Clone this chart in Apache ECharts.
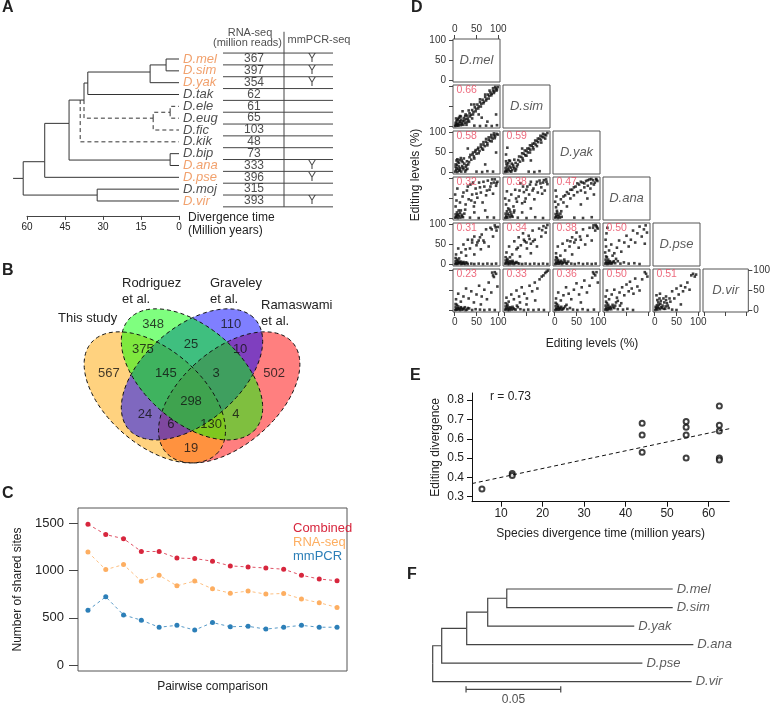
<!DOCTYPE html>
<html><head><meta charset="utf-8">
<script src="https://cdn.jsdelivr.net/npm/echarts@6/dist/echarts.min.js"></script>
<style>html,body{margin:0;padding:0;background:#fff}#c{width:773px;height:705px}</style>
</head><body><div id="c"></div>
<script>
const FONT = 'Liberation Sans, Arial, Helvetica, sans-serif';
const ORANGE = '#EE8A48';
const TXT = '#222';

// ---------- Panel A ----------
const speciesA = ['D.mel','D.sim','D.yak','D.tak','D.ele','D.eug','D.fic','D.kik','D.bip','D.ana','D.pse','D.moj','D.vir'];
const highlightA = ['D.mel','D.sim','D.yak','D.ana','D.pse','D.vir'];
const rnaSeqReads = [367,397,354,62,61,65,103,48,73,333,396,315,393];
const mmPCRSeq = ['Y','Y','Y','','','','','','','Y','Y','','Y'];
const divergenceTicks = [0,15,30,45,60];
// tree A nodes: [name, divergence time (Mya), row, parent, dashed]
const treeANodes = [
  ['root',61.5,10.09,null,0],
  ['nD',53,8.68,'root',0],
  ['nMojVir',32.3,11.5,'root',0],
  ['nC',43.4,5.44,'nD',0],
  ['nB',39,3.47,'nC',0],
  ['nA',37.5,3.47,'nB',0],
  ['nMelTak',36,2.03,'nA',0],
  ['nMSY',11.4,1.1,'nMelTak',0],
  ['nMS',5.1,0.5,'nMSY',0],
  ['nFic',10.2,5.0,'nA',1],
  ['nEleEug',3.5,4.5,'nFic',1],
  ['nBipAna',3.5,8.54,'nC',0],
  ['D.mel',0,0,'nMS',0],['D.sim',0,1,'nMS',0],['D.yak',0,2,'nMSY',0],['D.tak',0,3,'nMelTak',0],
  ['D.ele',0,4,'nEleEug',1],['D.eug',0,5,'nEleEug',1],['D.fic',0,6,'nFic',1],['D.kik',0,7,'nB',1],
  ['D.bip',0,8,'nBipAna',0],['D.ana',0,9,'nBipAna',0],['D.pse',0,10,'nD',0],
  ['D.moj',0,11,'nMojVir',0],['D.vir',0,12,'nMojVir',0]
];
const treeARootStub = 65.5;

// ---------- Panel B (Venn) ----------
const vennSetNames = ['Ramaswami et al.','This study','Graveley et al.','Rodriguez et al.'];
const vennColors = ['rgba(255,0,0,0.5)','rgba(255,165,0,0.5)','rgba(0,0,255,0.5)','rgba(0,255,0,0.5)'];
// ellipse: [centerX, centerY, semiMajor, semiMinor, rotationDeg]
const vennEllipses = [[0.65,0.47,0.35,0.2,45],[0.35,0.47,0.35,0.2,-45],[0.5,0.57,0.35,0.2,45],[0.5,0.57,0.35,0.2,-45]];
const vennCounts = [348,110,375,25,10,567,145,3,502,298,24,4,6,130,19];
const vennCountPos = [[0.343,0.789],[0.657,0.789],[0.302,0.680],[0.496,0.702],[0.694,0.680],[0.165,0.576],[0.395,0.576],[0.597,0.576],[0.831,0.576],[0.496,0.454],[0.310,0.398],[0.677,0.398],[0.415,0.354],[0.577,0.354],[0.496,0.246]];

// ---------- Panel C ----------
const combined = [1492,1382,1339,1203,1203,1133,1128,1100,1050,1039,1028,1015,951,911,893];
const rnaSeq = [1197,1011,1064,887,951,839,890,807,761,783,751,758,700,660,610];
const mmPCR = [580,722,530,475,400,420,370,450,405,410,380,400,420,400,400];
const cTicks = [0,500,1000,1500];

// ---------- Panel D ----------
const dSpecies = ['D.mel','D.sim','D.yak','D.ana','D.pse','D.vir'];
const dCorr = [[],[0.66],[0.58,0.59],[0.32,0.38,0.47],[0.31,0.34,0.38,0.50],[0.23,0.33,0.36,0.50,0.51]];
const dTicks = [0,50,100];
const simVsMel = [[1,1],[3,4],[5,2],[7,6],[2,9],[9,3],[11,8],[4,13],[13,12],[16,5],[15,17],[8,19],[19,13],[21,21],[24,9],[26,18],[12,26],[29,27],[31,15],[34,33],[37,29],[40,41],[43,36],[46,48],[49,44],[52,55],[55,50],[58,61],[61,57],[64,67],[67,62],[70,74],[73,69],[76,80],[79,77],[82,85],[85,82],[88,90],[91,88],[94,95],[97,93],[99,99],[93,99],[45,2],[58,1],[72,2],[85,1],[97,3],[62,22],[75,12],[95,30],[38,55],[18,38],[55,30],[6,16],[20,4],[28,10],[10,22],
  [30,20],[35,25],[42,30],[48,38],[54,45],[60,50],[66,58],[72,65],[78,70],[84,78],[90,84],[96,90],[25,30],[32,40],[45,55],[58,68],[70,80],[80,90],[88,96],[2,3],[5,7],[8,2],[11,13],[14,3],[17,9],[22,15],[27,4],[3,20],[14,25],[24,26],[33,12],[40,20]];
const yakVsMel = [[1,2],[3,6],[6,1],[8,9],[2,14],[10,4],[13,11],[5,19],[15,2],[17,16],[7,26],[20,8],[22,22],[11,31],[25,14],[28,28],[14,36],[31,20],[34,38],[38,32],[41,45],[44,40],[47,52],[50,47],[53,58],[57,54],[60,64],[63,60],[66,70],[69,66],[72,77],[75,73],[78,82],[81,79],[84,88],[87,85],[90,93],[93,91],[96,97],[99,95],[50,2],[63,1],[75,3],[88,2],[70,20],[30,60],[95,50],[4,30],[18,26],[26,6],[9,15],
  [2,20],[6,33],[10,24],[16,30],[21,35],[27,18],[33,26],[36,44],[42,50],[48,56],[54,62],[60,70],[66,76],[72,84],[78,88],[84,94],[90,98],[45,35],[55,48],[65,57],[75,68],[85,78],[92,86],[4,10],[12,6],[19,12],[24,2],[29,9]];
const yakVsSim = [[1,1],[4,5],[6,2],[2,11],[9,7],[12,3],[5,17],[14,12],[17,6],[8,23],[19,19],[22,10],[12,29],[25,24],[28,15],[31,31],[35,27],[38,39],[41,35],[44,47],[47,43],[50,54],[53,50],[56,60],[59,57],[62,67],[65,63],[68,73],[71,70],[74,79],[77,76],[80,85],[83,82],[86,90],[89,88],[92,95],[95,93],[98,99],[6,62],[3,45],[55,2],[68,1],[80,3],[60,30],[40,60],[16,22],[24,4],[3,28],
  [2,4],[7,10],[11,15],[15,2],[20,14],[26,8],[30,20],[4,22],[10,30],[22,32],[33,40],[40,48],[46,55],[52,60],[58,68],[64,72],[70,80],[76,85],[82,92],[88,97],[42,30],[50,42],[58,50],[66,58],[74,66],[84,75],[93,85]];
const anaVsMel = [[1,2],[4,5],[7,1],[2,10],[10,6],[13,2],[5,15],[16,9],[19,3],[9,20],[22,12],[2,30],[4,45],[1,60],[6,75],[12,40],[18,55],[25,35],[28,70],[32,48],[36,85],[40,60],[44,30],[48,75],[52,52],[56,90],[60,65],[64,40],[68,80],[72,58],[76,95],[80,72],[84,88],[88,62],[92,98],[95,82],[98,92],[35,2],[55,1],[75,3],[90,2],[45,15],[70,20],
  [3,3],[8,10],[12,14],[17,5],[6,8],[14,20],[24,22],[20,65],[30,80],[42,90],[50,62],[58,78],[66,92],[74,70],[82,80],[90,90],[86,98],[96,88],[38,45],[46,40]];
const anaVsSim = [[1,1],[3,6],[6,2],[2,12],[9,8],[12,3],[5,18],[15,10],[18,4],[8,25],[21,15],[3,35],[1,50],[5,68],[10,45],[15,60],[20,30],[24,72],[28,42],[32,55],[36,88],[40,38],[44,66],[48,50],[52,80],[56,60],[60,92],[64,70],[68,48],[72,85],[76,65],[80,95],[84,78],[88,90],[92,70],[95,98],[98,86],[30,2],[50,1],[70,3],[88,1],[60,25],[40,15],
  [4,3],[7,12],[13,16],[16,6],[11,22],[22,20],[26,50],[34,70],[42,80],[50,72],[58,85],[66,75],[74,92],[82,88],[90,96],[96,92],[86,62],[46,42]];
const anaVsYak = [[1,2],[4,6],[7,1],[2,11],[10,5],[13,12],[5,19],[16,4],[3,28],[1,42],[4,55],[2,70],[8,35],[14,48],[20,40],[24,58],[28,30],[32,62],[36,50],[40,72],[44,58],[48,80],[52,66],[56,85],[60,70],[64,90],[68,78],[72,94],[76,82],[80,98],[84,88],[88,96],[92,90],[95,99],[98,94],[45,2],[65,1],[85,3],[60,35],[75,50],[90,60],
  [3,4],[8,9],[12,2],[6,14],[15,18],[20,55],[28,66],[36,72],[44,78],[52,88],[60,92],[68,88],[76,96],[84,99],[90,85],[96,97],[70,65],[82,75]];
const pseVsMel = [[1,1],[3,4],[6,1],[9,3],[2,8],[12,6],[15,1],[5,12],[18,4],[21,2],[10,15],[25,5],[30,1],[38,2],[45,1],[55,2],[65,1],[75,2],[85,1],[95,2],[3,25],[8,40],[15,30],[20,50],[26,22],[30,62],[35,40],[40,55],[45,70],[50,48],[55,60],[60,38],[62,75],[68,55],[72,88],[78,45],[82,92],[88,70],[92,98],[96,85],[99,94],[45,25],
  [4,2],[7,5],[11,3],[14,7],[17,2],[20,6],[24,1],[28,4],[8,9],[2,16],[25,38],[40,62],[52,55],[58,68],[66,60],[85,88],[94,93]];
const pseVsSim = [[1,2],[4,5],[7,1],[10,4],[2,10],[13,8],[16,2],[6,14],[19,6],[23,3],[12,18],[27,6],[33,2],[40,1],[48,2],[58,1],[68,2],[78,1],[88,2],[98,1],[4,30],[10,45],[17,25],[22,58],[27,38],[32,68],[37,48],[42,78],[46,58],[51,40],[55,72],[60,52],[64,85],[69,62],[74,45],[79,90],[84,70],[89,96],[94,80],[98,99],[35,20],[60,28],
  [3,3],[8,7],[11,1],[15,5],[18,9],[21,1],[25,4],[30,3],[6,10],[2,18],[30,42],[44,62],[50,55],[57,64],[65,58],[86,86],[95,92]];
const pseVsYak = [[1,1],[3,5],[6,2],[9,6],[2,11],[12,3],[15,9],[5,16],[18,4],[22,12],[26,3],[31,7],[38,2],[46,1],[55,3],[65,1],[75,2],[85,1],[94,2],[3,28],[7,45],[13,22],[18,52],[24,35],[29,60],[34,45],[40,68],[45,55],[50,80],[55,42],[60,62],[65,88],[70,50],[75,72],[80,92],[85,60],[89,98],[93,85],[96,96],[99,90],[40,25],
  [4,3],[7,7],[10,2],[13,6],[17,1],[20,5],[24,7],[28,2],[8,11],[3,18],[36,58],[48,62],[58,70],[88,92],[94,99],[97,93]];
const pseVsAna = [[1,2],[3,6],[6,1],[9,4],[2,12],[12,8],[15,2],[5,18],[19,6],[24,3],[30,8],[36,2],[44,5],[55,2],[68,3],[80,1],[1,30],[3,45],[2,62],[4,78],[6,92],[10,35],[15,50],[22,28],[28,42],[33,60],[38,32],[45,55],[50,72],[55,45],[60,62],[65,85],[70,55],[75,78],[80,95],[85,70],[90,88],[94,98],[97,80],[92,52],
  [4,3],[7,7],[10,2],[13,5],[17,3],[21,8],[8,12],[3,20],[18,22],[26,14]];
const virVsMel = [[1,1],[3,4],[6,2],[9,5],[2,9],[12,1],[15,6],[5,14],[19,3],[23,8],[28,2],[33,5],[40,1],[48,3],[58,2],[68,1],[80,2],[92,1],[3,28],[8,42],[14,22],[20,35],[26,55],[32,30],[38,48],[44,20],[50,40],[56,62],[62,35],[68,52],[74,28],[78,70],[84,45],[88,88],[92,96],[95,92],[98,60],[60,15],
  [4,2],[7,5],[11,3],[14,8],[17,2],[21,5],[25,1],[8,10],[2,16],[30,6],[86,95],[90,84]];
const virVsSim = [[1,2],[4,5],[7,1],[10,4],[2,10],[13,8],[16,2],[6,15],[20,5],[25,2],[30,8],[36,3],[44,1],[54,2],[66,1],[78,2],[90,1],[4,32],[9,22],[15,40],[21,28],[27,50],[33,35],[39,58],[45,42],[51,30],[57,62],[63,48],[69,70],[75,55],[80,78],[85,85],[89,88],[93,94],[96,97],[99,100],[50,15],[70,25],
  [3,3],[8,7],[11,1],[14,5],[18,9],[22,3],[6,11],[2,18],[28,12],[35,20]];
const virVsYak = [[1,1],[3,5],[6,2],[9,6],[2,11],[12,3],[15,9],[5,16],[19,4],[24,10],[29,3],[35,6],[42,2],[52,1],[64,3],[76,1],[90,2],[3,30],[8,45],[14,25],[20,38],[26,58],[32,42],[38,28],[44,52],[50,68],[56,40],[62,58],[68,75],[74,45],[80,62],[86,82],[90,92],[93,88],[96,96],[99,70],[60,20],
  [4,3],[7,8],[10,2],[13,6],[17,2],[21,6],[8,12],[2,19],[27,14],[88,96]];
const virVsAna = [[1,2],[3,6],[6,1],[9,5],[2,12],[12,9],[15,3],[5,18],[18,14],[22,6],[26,20],[30,3],[35,12],[42,2],[52,4],[65,1],[2,35],[5,50],[10,28],[16,40],[22,52],[28,32],[34,45],[40,58],[45,38],[50,65],[55,48],[58,72],[62,55],[66,42],[70,80],[75,60],[80,50],[86,78],[92,96],[95,92],[98,85],
  [4,3],[7,9],[10,3],[14,7],[19,9],[8,14],[3,22],[24,12],[30,24],[38,18]];
const virVsPse = [[1,1],[3,4],[6,2],[9,6],[2,9],[12,3],[15,8],[5,13],[18,12],[21,4],[8,20],[25,10],[14,24],[28,18],[20,30],[32,6],[36,22],[4,38],[12,42],[26,35],[40,48],[45,30],[50,55],[55,40],[60,62],[65,48],[70,58],[75,70],[80,52],[84,88],[88,92],[92,85],[95,90],[60,15],[40,2],[50,1],
  [4,6],[7,9],[10,14],[13,17],[17,6],[22,20],[26,26],[30,12],[34,30],[11,30],[6,26],[24,4]];
const dPanels = {
  '1,0': simVsMel,
  '2,0': yakVsMel, '2,1': yakVsSim,
  '3,0': anaVsMel, '3,1': anaVsSim, '3,2': anaVsYak,
  '4,0': pseVsMel, '4,1': pseVsSim, '4,2': pseVsYak, '4,3': pseVsAna,
  '5,0': virVsMel, '5,1': virVsSim, '5,2': virVsYak, '5,3': virVsAna, '5,4': virVsPse
};

// ---------- Panel E ----------
const eTime = [5.4,12.7,12.7,44,44,44,54.6,54.6,54.6,54.6,62.6,62.6,62.6,62.6,62.6];
const eDivergence = [0.34,0.42,0.41,0.68,0.62,0.53,0.69,0.66,0.62,0.50,0.77,0.67,0.64,0.50,0.49];
const eFit = [[3,0.368],[65,0.652]];
const eXTicks = [10,20,30,40,50,60];
const eYTicks = [0.3,0.4,0.5,0.6,0.7,0.8];

// ---------- Panel F ----------
// [name, distance from root, row, parent]
const treeFNodes = [
  ['root',0,4.03,null],['nPse',0.00475,3.06,'root'],['nAna',0.01795,2.125,'nPse'],['nYak',0.02904,1.25,'nAna'],['nMS',0.0391,0.5,'nYak'],
  ['D.mel',0.1267,0,'nMS'],['D.sim',0.1267,1,'nMS'],['D.yak',0.1064,2,'nYak'],['D.ana',0.1376,3,'nAna'],['D.pse',0.1107,4,'nPse'],['D.vir',0.1367,5,'root']
];
const scaleBarStart = 0.0176, scaleBarLength = 0.05;

// =============== build ===============
const grids = [], xAxes = [], yAxes = [], series = [];
function addGrid(g, xa, ya){ const i = grids.length; grids.push(g); xa.gridIndex = i; ya.gridIndex = i; xAxes.push(xa); yAxes.push(ya); return i; }
function treeEdges(nodes){
  const by = {}; nodes.forEach(n => by[n[0]] = n);
  const solid = [], dashed = [];
  nodes.forEach(n => { if (!n[3]) return; const p = by[n[3]];
    const seg = {coords: [[p[1], p[2]], [p[1], n[2]], [n[1], n[2]]]};
    (n[4] ? dashed : solid).push(seg); });
  return {solid, dashed};
}
const tipLabel = {show:true, position:'right', distance:4, formatter:'{b}', fontSize:13, fontStyle:'italic', fontFamily:FONT};

// A tree
const gA = addGrid({left:27, top:53.1, width:152, height:153.8},
  {type:'value', min:0, max:60, interval:15, inverse:true, offset:9,
   axisLine:{onZero:false, lineStyle:{color:'#444'}}, axisTick:{length:4, lineStyle:{color:'#444'}},
   axisLabel:{fontSize:10, color:TXT, margin:6}, splitLine:{show:false}},
  {type:'value', min:-0.5, max:12.5, inverse:true, show:false, axisLine:{onZero:false}});
const eA = treeEdges(treeANodes);
const rootA = treeANodes[0];
eA.solid.push({coords:[[treeARootStub, rootA[2]], [rootA[1], rootA[2]]]});
series.push({type:'lines', coordinateSystem:'cartesian2d', xAxisIndex:gA, yAxisIndex:gA, polyline:true, clip:false, silent:true,
  lineStyle:{color:'#333', width:1, opacity:1}, data:eA.solid});
series.push({type:'lines', coordinateSystem:'cartesian2d', xAxisIndex:gA, yAxisIndex:gA, polyline:true, clip:false, silent:true,
  lineStyle:{color:'#333', width:1, opacity:1, type:[4,3]}, data:eA.dashed});
series.push({type:'scatter', xAxisIndex:gA, yAxisIndex:gA, symbolSize:0, silent:true,
  label:Object.assign({}, tipLabel, {fontSize:13}),
  data: treeANodes.filter(n => speciesA.includes(n[0])).map(n => ({name:n[0], value:[n[1], n[2]], label:{color: highlightA.includes(n[0]) ? ORANGE : TXT}}))});

// A table
const gT = addGrid({left:180, top:29.4, width:153, height:177.45},
  {type:'value', min:0, max:153, show:false, axisLine:{onZero:false}}, {type:'value', min:-2.5, max:12.5, inverse:true, show:false, axisLine:{onZero:false}});
const tableLines = [];
for (let r = -0.5; r <= 12.5; r += 1) tableLines.push({coords:[[43, r], [153, r]]});
tableLines.push({coords:[[104, -2.3], [104, 12.5]]});
series.push({type:'lines', coordinateSystem:'cartesian2d', xAxisIndex:gT, yAxisIndex:gT, polyline:true, clip:false, silent:true,
  lineStyle:{color:'#444', width:1, opacity:1}, data:tableLines});
const tableCells = [];
rnaSeqReads.forEach((v, i) => tableCells.push({name:String(v), value:[74, i]}));
mmPCRSeq.forEach((v, i) => { if (v) tableCells.push({name:v, value:[132, i]}); });
series.push({type:'scatter', xAxisIndex:gT, yAxisIndex:gT, symbolSize:0, silent:true,
  label:{show:true, position:'inside', formatter:'{b}', fontSize:12, color:TXT, fontFamily:FONT}, data:tableCells});
series.push({type:'scatter', xAxisIndex:gT, yAxisIndex:gT, symbolSize:0, silent:true,
  label:{show:true, position:'inside', formatter:'{b}', fontSize:11, color:TXT, fontFamily:FONT},
  data:[{name:'RNA-seq', value:[70, -2.2]}, {name:'(million reads)', value:[67.5, -1.35]}, {name:'mmPCR-seq', value:[139, -1.6]}]});

// B Venn
const gV = addGrid({left:68, top:275.5, width:248, height:230},
  {type:'value', min:0, max:1, show:false, axisLine:{onZero:false}}, {type:'value', min:0, max:1, show:false, axisLine:{onZero:false}});
function ellipseRender(fillMode){
  return function(params, api){
    const cx = api.value(0), cy = api.value(1), a = api.value(2), b = api.value(3), rot = api.value(4) * Math.PI / 180;
    const pts = [];
    for (let k = 0; k < 120; k++) { const t = k / 120 * 2 * Math.PI;
      const x = cx + a * Math.cos(t) * Math.cos(rot) - b * Math.sin(t) * Math.sin(rot);
      const y = cy + a * Math.cos(t) * Math.sin(rot) + b * Math.sin(t) * Math.cos(rot);
      pts.push(api.coord([x, y])); }
    return {type:'polygon', shape:{points:pts},
      style: fillMode ? {fill: vennColors[params.dataIndex], stroke:'none'} : {fill:'none', stroke:'#111', lineWidth:1, lineDash:[4,3]}};
  };
}
series.push({type:'custom', xAxisIndex:gV, yAxisIndex:gV, silent:true, renderItem:ellipseRender(true), data:vennEllipses, clip:false});
series.push({type:'custom', xAxisIndex:gV, yAxisIndex:gV, silent:true, renderItem:ellipseRender(false), data:vennEllipses, clip:false});
series.push({type:'scatter', xAxisIndex:gV, yAxisIndex:gV, symbolSize:0, silent:true,
  label:{show:true, position:'inside', formatter:'{b}', fontSize:13, color:'#111', fontFamily:FONT},
  data: vennCounts.map((c, i) => ({name:String(c), value:vennCountPos[i]}))});

// C
const gC = addGrid({left:78, top:508, width:269, height:163, show:true, borderColor:'#555', borderWidth:1},
  {type:'value', min:0.44, max:15.56, axisLine:{show:false, onZero:false}, axisTick:{show:false}, axisLabel:{show:false}, splitLine:{show:false},
   name:'Pairwise comparison', nameLocation:'middle', nameGap:10, nameTextStyle:{fontSize:12, color:TXT}},
  {type:'value', min:-64, max:1664, axisLine:{show:false, onZero:false}, splitLine:{show:false},
   axisTick:{show:true, length:9, customValues:cTicks, lineStyle:{color:'#444'}},
   axisLabel:{customValues:cTicks, fontSize:13, color:TXT, margin:14, formatter:v => String(v)},
   name:'Number of shared sites', nameLocation:'middle', nameGap:54, nameTextStyle:{fontSize:12, color:TXT}});
const cSeries = [['Combined', combined, '#D7263D'], ['RNA-seq', rnaSeq, '#FDAE61'], ['mmPCR', mmPCR, '#2C7FB8']];
cSeries.forEach(s => series.push({type:'line', name:s[0], xAxisIndex:gC, yAxisIndex:gC, data:s[1].map((v, i) => [i + 1, v]),
  symbol:'circle', symbolSize:5, itemStyle:{color:s[2]}, lineStyle:{color:s[2], width:0.8, type:[3,3]}, silent:true}));

// E
const gE = addGrid({left:472, top:393, width:257.3, height:108.7},
  {type:'value', min:3, max:65, splitLine:{show:false}, axisLine:{onZero:false, lineStyle:{color:'#111'}},
   axisTick:{length:5, customValues:eXTicks, lineStyle:{color:'#111'}}, axisLabel:{customValues:eXTicks, fontSize:12, color:TXT, margin:6},
   name:'Species divergence time (million years)', nameLocation:'middle', nameGap:26, nameTextStyle:{fontSize:12, color:TXT}},
  {type:'value', min:0.274, max:0.837, splitLine:{show:false}, axisLine:{show:true, onZero:false, lineStyle:{color:'#111'}},
   axisTick:{show:true, length:5, customValues:eYTicks, lineStyle:{color:'#111'}},
   axisLabel:{customValues:eYTicks, fontSize:12, color:TXT, margin:8, formatter:v => v.toFixed(1)},
   name:'Editing divergence', nameLocation:'middle', nameGap:30, nameTextStyle:{fontSize:12, color:TXT}});
series.push({type:'scatter', xAxisIndex:gE, yAxisIndex:gE, symbol:'emptyCircle', symbolSize:5, silent:true,
  itemStyle:{color:'#111', borderColor:'#222', borderWidth:0.8}, data:eTime.map((t, i) => [t, eDivergence[i]])});
series.push({type:'line', xAxisIndex:gE, yAxisIndex:gE, data:eFit, symbol:'none', silent:true, lineStyle:{color:'#111', width:1, type:[4,3]}});

// F
const gF = addGrid({left:432.7, top:589, width:265.2, height:111.24},
  {type:'value', min:0, max:0.14, show:false, axisLine:{onZero:false}}, {type:'value', min:0, max:6, inverse:true, show:false, axisLine:{onZero:false}});
const eF = treeEdges(treeFNodes);
const scaleBarY = 5.41;
eF.solid.push({coords:[[scaleBarStart, scaleBarY], [scaleBarStart + scaleBarLength, scaleBarY]]});
eF.solid.push({coords:[[scaleBarStart, scaleBarY - 0.17], [scaleBarStart, scaleBarY + 0.17]]});
eF.solid.push({coords:[[scaleBarStart + scaleBarLength, scaleBarY - 0.17], [scaleBarStart + scaleBarLength, scaleBarY + 0.17]]});
series.push({type:'lines', coordinateSystem:'cartesian2d', xAxisIndex:gF, yAxisIndex:gF, polyline:true, clip:false, silent:true,
  lineStyle:{color:'#444', width:1.2, opacity:1}, data:eF.solid});
series.push({type:'scatter', xAxisIndex:gF, yAxisIndex:gF, symbolSize:0, silent:true,
  label:Object.assign({}, tipLabel, {color:'#333', fontSize:13}),
  data: treeFNodes.filter(n => n[0].startsWith('D.')).map(n => ({name:n[0], value:[n[1], n[2]]}))});
series.push({type:'scatter', xAxisIndex:gF, yAxisIndex:gF, symbolSize:0, silent:true,
  label:{show:true, position:'inside', formatter:'{b}', fontSize:12, color:TXT, fontFamily:FONT},
  data:[{name:String(scaleBarLength), value:[scaleBarStart + scaleBarLength / 2, 5.95]}]});

// D scatter matrix
for (let r = 0; r < 6; r++) {
  for (let c = 0; c <= r; c++) {
    const xa = {type:'value', min:-4, max:104, splitLine:{show:false}, axisLine:{show:false, onZero:false}};
    const ya = {type:'value', min:-4, max:104, splitLine:{show:false}, axisLine:{show:false, onZero:false}};
    const tick = {show:true, length:4, customValues:dTicks, lineStyle:{color:'#444'}};
    if (r === 5 || (r === 0 && c === 0)) {
      xa.position = r === 0 ? 'top' : 'bottom';
      xa.axisTick = tick;
      xa.axisLabel = {show: r === 0 || c % 2 === 0, customValues:dTicks, fontSize:10, color:'#333', margin:5};
    } else xa.show = false;
    if (c === 0 || (r === 5 && c === 5)) {
      ya.position = c === 0 ? 'left' : 'right';
      ya.axisTick = tick;
      ya.axisLabel = {show: c === 0 ? r % 2 === 0 : true, customValues:dTicks, fontSize:10, color:'#333', margin: c === 0 ? 7 : 5};
    } else ya.show = false;
    const g = addGrid({left:453 + 50 * c, top:39 + 46 * r, width:47, height:43, show:true, borderColor:'#555', borderWidth:1}, xa, ya);
    if (r === c) {
      series.push({type:'scatter', xAxisIndex:g, yAxisIndex:g, symbolSize:0, silent:true,
        label:{show:true, position:'inside', formatter:'{b}', fontSize:13, fontStyle:'italic', color:'#333', fontFamily:FONT},
        data:[{name:dSpecies[r], value:[50, 50]}]});
    } else {
      series.push({type:'scatter', xAxisIndex:g, yAxisIndex:g, symbol:'rect', symbolSize:2.6, silent:true,
        itemStyle:{color:'#111'}, data:dPanels[r + ',' + c]});
      series.push({type:'scatter', xAxisIndex:g, yAxisIndex:g, symbolSize:0, silent:true, z:3,
        label:{show:true, position:'right', distance:0, formatter:'{b}', fontSize:10.5, color:'#E8455C', fontFamily:FONT},
        data:[{name:dCorr[r][c].toFixed(2), value:[4, 91]}]});
    }
  }
}

function txt(text, x, y, opt){ return Object.assign({type:'text', x:x, y:y, silent:true,
  style:Object.assign({text:text, font:'12px ' + FONT, fill:TXT, textAlign:'left', align:'left', textVerticalAlign:'middle', verticalAlign:'middle'}, opt || {})}); }
function ctxt(text, x, y, size, extra){ return txt(text, x, y, Object.assign({font: size + 'px ' + FONT}, extra || {})); }
const letterFont = 'bold 16px ' + FONT;
const graphics = [
  txt('A', 2, 8, {font:letterFont}), txt('B', 2, 271, {font:letterFont}), txt('C', 2, 494, {font:letterFont}),
  txt('D', 411, 8, {font:letterFont}), txt('E', 410, 376, {font:letterFont}), txt('F', 407, 575, {font:letterFont}),
  txt('Divergence time', 188, 218), txt('(Million years)', 188, 231),
  ctxt('This study', 58, 318, 13), ctxt('Rodriguez', 122, 283, 13), ctxt('et al.', 122, 299, 13),
  ctxt('Graveley', 210, 283, 13), ctxt('et al.', 210, 299, 13), ctxt('Ramaswami', 261, 305, 13), ctxt('et al.', 261, 321, 13),
  ctxt('r = 0.73', 490, 397, 12),
  ctxt('Editing levels (%)', 592, 344, 12, {textAlign:'center', align:'center'}),
  Object.assign(ctxt('Editing levels (%)', 0, 0, 12, {textAlign:'center', align:'center'}), {x:416, y:175, rotation:Math.PI / 2})
];

const chart = echarts.init(document.getElementById('c'), null, {renderer:'canvas'});
chart.setOption({
  animation:false,
  textStyle:{fontFamily:FONT},
  grid:grids, xAxis:xAxes, yAxis:yAxes, series:series,
  legend:{data:[{name:'Combined', textStyle:{color:'#D7263D'}}, {name:'RNA-seq', textStyle:{color:'#FDAE61'}}, {name:'mmPCR', textStyle:{color:'#2C7FB8'}}],
    orient:'vertical', left:283, top:517, icon:'circle', itemWidth:0, itemHeight:0, itemGap:1, selectedMode:false,
    textStyle:{fontSize:13, fontFamily:FONT, padding:0}},
  graphic:graphics
});
</script></body></html>
